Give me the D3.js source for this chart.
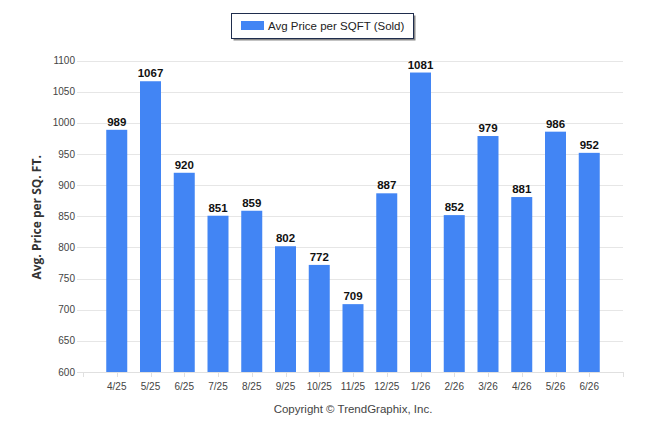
<!DOCTYPE html>
<html>
<head>
<meta charset="utf-8">
<script src="https://cdn.jsdelivr.net/npm/d3@7"></script>
<style>
  body { margin: 0; background: #fff; }
  svg { display: block; font-family: "Liberation Sans", Arial, sans-serif; }
</style>
</head>
<body>
<svg id="chart" width="646" height="434"></svg>
<script>
// data
const months = ["4/25", "5/25", "6/25", "7/25", "8/25", "9/25", "10/25", "11/25",
                "12/25", "1/26", "2/26", "3/26", "4/26", "5/26", "6/26"];
const avgPrice = [989, 1067, 920, 851, 859, 802, 772, 709, 887, 1081, 852, 979, 881, 986, 952];
const yTicks = [600, 650, 700, 750, 800, 850, 900, 950, 1000, 1050, 1100];

const svg = d3.select("#chart");
const barColor = "#4285f4";

// plot area
const plotL = 83, plotR = 623, plotT = 60.7, plotB = 372;

// one empty slot on either side of the 15 months
const x = d3.scaleLinear().domain([0, months.length + 1]).range([plotL, plotR]);
const y = d3.scaleLinear().domain([600, 1100]).range([plotB, plotT]);
const barW = 21;

// gridlines
svg.append("g")
  .selectAll("line")
  .data(yTicks)
  .join("line")
    .attr("x1", 77).attr("x2", plotR)
    .attr("y1", d => Math.round(y(d)) + 0.5).attr("y2", d => Math.round(y(d)) + 0.5)
    .attr("stroke", "#e6e6e6").attr("stroke-width", 1);

// y tick labels
svg.append("g")
  .selectAll("text")
  .data(yTicks)
  .join("text")
    .attr("x", 75).attr("y", d => y(d) + 3.5)
    .attr("text-anchor", "end")
    .attr("font-size", 10).attr("fill", "#444")
    .text(d => d);

// x axis ticks, at each month and at both ends
svg.append("g")
  .selectAll("line")
  .data(d3.range(months.length + 2))
  .join("line")
    .attr("x1", d => Math.round(x(d)) + 0.5).attr("x2", d => Math.round(x(d)) + 0.5)
    .attr("y1", plotB).attr("y2", plotB + 5)
    .attr("stroke", "#e0e0e0");

// bars
svg.append("g")
  .selectAll("rect")
  .data(avgPrice)
  .join("rect")
    .attr("x", (d, i) => x(i + 1) - barW / 2)
    .attr("width", barW)
    .attr("y", d => y(d))
    .attr("height", d => plotB - y(d))
    .attr("fill", barColor);

// value labels
svg.append("g")
  .selectAll("text")
  .data(avgPrice)
  .join("text")
    .attr("x", (d, i) => x(i + 1))
    .attr("y", d => y(d) - 4)
    .attr("text-anchor", "middle")
    .attr("font-size", 11.5).attr("font-weight", "bold").attr("fill", "#111")
    .text(d => d);

// month labels
svg.append("g")
  .selectAll("text")
  .data(months)
  .join("text")
    .attr("x", (d, i) => x(i + 1))
    .attr("y", 390)
    .attr("text-anchor", "middle")
    .attr("font-size", 10).attr("fill", "#444")
    .text(d => d);

// x axis baseline
svg.append("line")
  .attr("x1", 77).attr("x2", plotR)
  .attr("y1", plotB + 0.5).attr("y2", plotB + 0.5)
  .attr("stroke", "#e0e0e0");

// y axis title
svg.append("text")
  .attr("transform", `translate(41,${(plotT + plotB) / 2 + 1}) rotate(-90)`)
  .attr("text-anchor", "middle")
  .attr("font-family", "'Open Sans', 'DejaVu Sans', sans-serif")
  .attr("font-size", 12).attr("font-weight", "bold").attr("fill", "#333")
  .text("Avg. Price per SQ. FT.");

// copyright
svg.append("text")
  .attr("x", 353).attr("y", 413)
  .attr("text-anchor", "middle")
  .attr("font-size", 11.5).attr("fill", "#444")
  .text("Copyright \u00A9 TrendGraphix, Inc.");

// legend
const legend = svg.append("g");
legend.append("rect")
  .attr("x", 233.5).attr("y", 15.5).attr("width", 182).attr("height", 25)
  .attr("fill", "#888");
legend.append("rect")
  .attr("x", 231.5).attr("y", 13.5).attr("width", 182).attr("height", 25)
  .attr("fill", "#fff").attr("stroke", "#1f2d4d").attr("stroke-width", 1);
legend.append("rect")
  .attr("x", 241).attr("y", 21).attr("width", 23).attr("height", 9)
  .attr("fill", barColor);
legend.append("text")
  .attr("x", 268).attr("y", 30)
  .attr("font-size", 11.5).attr("fill", "#222")
  .text("Avg Price per SQFT (Sold)");
</script>
</body>
</html>
